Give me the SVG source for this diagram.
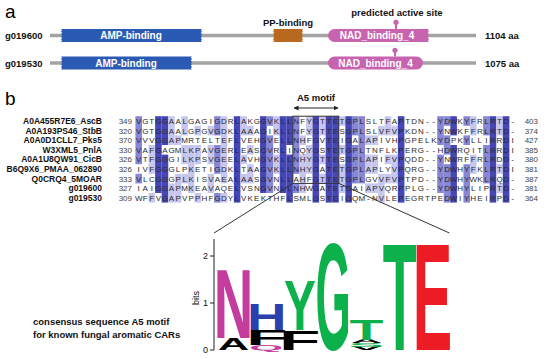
<svg xmlns="http://www.w3.org/2000/svg" width="550" height="359" viewBox="0 0 550 359">
<style>
.pl{font-family:"Liberation Sans",Arial,sans-serif;font-size:19px;fill:#000}
.lb{font-family:"Liberation Sans",Arial,sans-serif;font-size:9.5px;font-weight:bold;fill:#111}
.bx{font-family:"Liberation Sans",Arial,sans-serif;font-size:10px;font-weight:bold;fill:#fff;text-anchor:middle}
.bb{fill:none;stroke:#a3a3a3;stroke-width:3.5}
.amp{fill:#2a5ab4}
.pp{fill:#b9691e}
.nad{fill:#c864af}
.stk{stroke:#c864af;stroke-width:2}
.nm{font-family:"Liberation Sans",Arial,sans-serif;font-size:8.5px;font-weight:bold;fill:#111;text-anchor:end}
.no{font-family:"Liberation Sans",Arial,sans-serif;font-size:8px;fill:#444}
.sq{font-family:"Liberation Sans",Arial,sans-serif;font-size:8px;fill:#2a2a2a;text-anchor:middle}
.d{fill:#4646b6}
.m{fill:#8787d6}
.l{fill:#c7c7ee}
.cn{stroke:#333;stroke-width:1;fill:none}
.lg{font-family:"Liberation Sans",Arial,sans-serif;font-size:10px;font-weight:bold}
.ax{font-family:"Liberation Sans",Arial,sans-serif;font-size:9px;fill:#111}
</style>
<defs>
<marker id="ah" viewBox="0 0 10 10" refX="9" refY="5" markerWidth="5" markerHeight="5" orient="auto-start-reverse" markerUnits="userSpaceOnUse">
<path d="M0,0 L10,5 L0,10 Z" fill="#222"/>
</marker>
</defs>

<!-- panel a -->
<text class="pl" x="5" y="18">a</text>
<text class="lb" x="397" y="16" text-anchor="middle">predicted active site</text>

<g id="g019600-protein">
<text class="lb" x="5" y="39">g019600</text>
<line class="bb" x1="50" y1="35.5" x2="476" y2="35.5"/>
<text class="lb" x="485" y="39">1104 aa</text>
</g>
<g id="g019600-AMP">
<path class="amp" d="M61,29 L202,29 L200.8,30.3 L202,31.6 L200.8,32.9 L202,34.2 L200.8,35.5 L202,36.8 L200.8,38.1 L202,39.4 L200.8,40.7 L202,42 L61,42 L62.2,40.7 L61,39.4 L62.2,38.1 L61,36.8 L62.2,35.5 L61,34.2 L62.2,32.9 L61,31.6 L62.2,30.3 Z"/>
<text class="bx" x="131" y="39.2">AMP-binding</text>
</g>
<g id="g019600-PP">
<path class="pp" d="M273,29 L303,29 L301.8,30.3 L303,31.6 L301.8,32.9 L303,34.2 L301.8,35.5 L303,36.8 L301.8,38.1 L303,39.4 L301.8,40.7 L303,42 L273,42 L274.2,40.7 L273,39.4 L274.2,38.1 L273,36.8 L274.2,35.5 L273,34.2 L274.2,32.9 L273,31.6 L274.2,30.3 Z"/>
<text class="lb" x="288" y="25.5" text-anchor="middle">PP-binding</text>
</g>
<g id="g019600-NAD">
<path class="nad" d="M334.5,29 L429,29 L427.8,30.3 L429,31.6 L427.8,32.9 L429,34.2 L427.8,35.5 L429,36.8 L427.8,38.1 L429,39.4 L427.8,40.7 L429,42 L334.5,42 A6.5,6.5 0 0 1 334.5,29 Z"/>
<line class="stk" x1="396" y1="23" x2="396" y2="29"/>
<circle class="nad" cx="396" cy="22.3" r="2.6"/>
<text class="bx" x="377" y="39.2">NAD_binding_4</text>
</g>

<g id="g019530-protein">
<text class="lb" x="5" y="67">g019530</text>
<line class="bb" x1="50" y1="63" x2="476" y2="63"/>
<text class="lb" x="485" y="67">1075 aa</text>
</g>
<g id="g019530-AMP">
<path class="amp" d="M61,56.5 L192,56.5 L190.8,57.8 L192,59.1 L190.8,60.4 L192,61.7 L190.8,63 L192,64.3 L190.8,65.6 L192,66.9 L190.8,68.2 L192,69.5 L61,69.5 L62.2,68.2 L61,66.9 L62.2,65.6 L61,64.3 L62.2,63 L61,61.7 L62.2,60.4 L61,59.1 L62.2,57.8 Z"/>
<text class="bx" x="126" y="66.7">AMP-binding</text>
</g>
<g id="g019530-NAD">
<rect class="nad" x="328" y="56.5" width="95" height="13" rx="6.5"/>
<line class="stk" x1="395" y1="51" x2="395" y2="56.5"/>
<circle class="nad" cx="395" cy="50.3" r="2.6"/>
<text class="bx" x="375.5" y="66.7">NAD_binding_4</text>
</g>

<!-- panel b -->
<text class="pl" x="5" y="105">b</text>
<g id="a5-label">
<text class="lb" x="316" y="101" text-anchor="middle">A5 motif</text>
<line x1="294" y1="108" x2="338" y2="108" stroke="#222" stroke-width="1" marker-start="url(#ah)" marker-end="url(#ah)"/>
</g>

<g id="alignment-shading">
<rect class="m" x="135.42" y="116.2" width="6.6" height="48"/>
<rect class="m" x="135.42" y="173.8" width="6.6" height="9.6"/>
<rect class="l" x="148.54" y="145" width="6.6" height="28.8"/>
<rect class="l" x="148.54" y="193" width="6.6" height="9.6"/>
<rect class="d" x="155.1" y="116.2" width="6.6" height="76.8"/>
<rect class="d" x="161.66" y="116.2" width="6.6" height="28.8"/>
<rect class="d" x="161.66" y="154.6" width="6.6" height="48"/>
<rect class="l" x="168.22" y="116.2" width="6.6" height="28.8"/>
<rect class="l" x="168.22" y="183.4" width="6.6" height="19.2"/>
<rect class="l" x="174.78" y="135.4" width="6.6" height="9.6"/>
<rect class="l" x="174.78" y="173.8" width="6.6" height="28.8"/>
<rect class="l" x="181.34" y="116.2" width="6.6" height="19.2"/>
<rect class="l" x="181.34" y="145" width="6.6" height="19.2"/>
<rect class="l" x="181.34" y="173.8" width="6.6" height="9.6"/>
<rect class="l" x="187.9" y="145" width="6.6" height="48"/>
<rect class="l" x="194.46" y="125.8" width="6.6" height="9.6"/>
<rect class="l" x="194.46" y="145" width="6.6" height="19.2"/>
<rect class="l" x="194.46" y="193" width="6.6" height="9.6"/>
<rect class="l" x="207.58" y="125.8" width="6.6" height="9.6"/>
<rect class="l" x="207.58" y="145" width="6.6" height="19.2"/>
<rect class="l" x="207.58" y="173.8" width="6.6" height="19.2"/>
<rect class="m" x="214.14" y="116.2" width="6.6" height="19.2"/>
<rect class="m" x="214.14" y="145" width="6.6" height="28.8"/>
<rect class="m" x="214.14" y="193" width="6.6" height="9.6"/>
<rect class="l" x="220.7" y="116.2" width="6.6" height="67.2"/>
<rect class="l" x="220.7" y="193" width="6.6" height="9.6"/>
<rect class="d" x="233.82" y="116.2" width="6.6" height="86.4"/>
<rect class="l" x="240.38" y="116.2" width="6.6" height="19.2"/>
<rect class="l" x="240.38" y="154.6" width="6.6" height="9.6"/>
<rect class="l" x="240.38" y="173.8" width="6.6" height="9.6"/>
<rect class="l" x="246.94" y="125.8" width="6.6" height="9.6"/>
<rect class="l" x="246.94" y="145" width="6.6" height="9.6"/>
<rect class="l" x="246.94" y="164.2" width="6.6" height="19.2"/>
<rect class="d" x="260.06" y="116.2" width="6.6" height="76.8"/>
<rect class="m" x="266.62" y="116.2" width="6.6" height="9.6"/>
<rect class="m" x="266.62" y="135.4" width="6.6" height="57.6"/>
<rect class="l" x="273.18" y="116.2" width="6.6" height="19.2"/>
<rect class="l" x="273.18" y="154.6" width="6.6" height="19.2"/>
<rect class="d" x="279.74" y="116.2" width="6.6" height="76.8"/>
<rect class="d" x="286.3" y="116.2" width="6.6" height="28.8"/>
<rect class="d" x="286.3" y="154.6" width="6.6" height="48"/>
<rect class="m" x="292.86" y="116.2" width="6.6" height="57.6"/>
<rect class="m" x="292.86" y="183.4" width="6.6" height="9.6"/>
<rect class="l" x="299.42" y="135.4" width="6.6" height="9.6"/>
<rect class="l" x="299.42" y="154.6" width="6.6" height="38.4"/>
<rect class="l" x="305.98" y="116.2" width="6.6" height="19.2"/>
<rect class="l" x="305.98" y="145" width="6.6" height="28.8"/>
<rect class="d" x="312.54" y="116.2" width="6.6" height="86.4"/>
<rect class="l" x="319.1" y="116.2" width="6.6" height="19.2"/>
<rect class="l" x="319.1" y="154.6" width="6.6" height="9.6"/>
<rect class="l" x="319.1" y="173.8" width="6.6" height="9.6"/>
<rect class="d" x="325.66" y="116.2" width="6.6" height="86.4"/>
<rect class="d" x="332.22" y="116.2" width="6.6" height="86.4"/>
<rect class="l" x="338.78" y="116.2" width="6.6" height="9.6"/>
<rect class="l" x="338.78" y="145" width="6.6" height="9.6"/>
<rect class="l" x="338.78" y="164.2" width="6.6" height="28.8"/>
<rect class="d" x="345.34" y="116.2" width="6.6" height="86.4"/>
<rect class="m" x="351.9" y="116.2" width="6.6" height="19.2"/>
<rect class="m" x="351.9" y="145" width="6.6" height="38.4"/>
<rect class="m" x="358.46" y="116.2" width="6.6" height="67.2"/>
<rect class="l" x="365.02" y="135.4" width="6.6" height="9.6"/>
<rect class="l" x="365.02" y="154.6" width="6.6" height="19.2"/>
<rect class="l" x="365.02" y="183.4" width="6.6" height="9.6"/>
<rect class="l" x="371.58" y="135.4" width="6.6" height="9.6"/>
<rect class="l" x="371.58" y="154.6" width="6.6" height="19.2"/>
<rect class="l" x="371.58" y="183.4" width="6.6" height="9.6"/>
<rect class="l" x="378.14" y="125.8" width="6.6" height="9.6"/>
<rect class="l" x="378.14" y="173.8" width="6.6" height="28.8"/>
<rect class="l" x="384.7" y="116.2" width="6.6" height="19.2"/>
<rect class="l" x="384.7" y="154.6" width="6.6" height="9.6"/>
<rect class="l" x="384.7" y="173.8" width="6.6" height="9.6"/>
<rect class="l" x="391.26" y="125.8" width="6.6" height="9.6"/>
<rect class="l" x="391.26" y="154.6" width="6.6" height="28.8"/>
<rect class="d" x="397.82" y="116.2" width="6.6" height="86.4"/>
<rect class="m" x="437.18" y="116.2" width="6.6" height="28.8"/>
<rect class="m" x="437.18" y="154.6" width="6.6" height="38.4"/>
<rect class="m" x="443.74" y="116.2" width="6.6" height="9.6"/>
<rect class="m" x="443.74" y="135.4" width="6.6" height="19.2"/>
<rect class="m" x="443.74" y="164.2" width="6.6" height="38.4"/>
<rect class="d" x="450.3" y="116.2" width="6.6" height="19.2"/>
<rect class="d" x="450.3" y="145" width="6.6" height="57.6"/>
<rect class="m" x="463.42" y="116.2" width="6.6" height="9.6"/>
<rect class="m" x="463.42" y="135.4" width="6.6" height="9.6"/>
<rect class="m" x="463.42" y="164.2" width="6.6" height="38.4"/>
<rect class="l" x="469.98" y="116.2" width="6.6" height="19.2"/>
<rect class="l" x="469.98" y="154.6" width="6.6" height="19.2"/>
<rect class="m" x="483.1" y="116.2" width="6.6" height="19.2"/>
<rect class="m" x="483.1" y="145" width="6.6" height="38.4"/>
<rect class="d" x="489.66" y="116.2" width="6.6" height="86.4"/>
<rect class="l" x="496.22" y="116.2" width="6.6" height="19.2"/>
<rect class="l" x="496.22" y="164.2" width="6.6" height="9.6"/>
<rect class="l" x="496.22" y="183.4" width="6.6" height="9.6"/>
<rect class="d" x="502.78" y="116.2" width="6.6" height="86.4"/>
</g>

<g id="alignment-text">
<text class="nm" x="102" y="124">A0A455R7E6_AscB</text>
<text class="nm" x="102" y="133.6">A0A193PS46_StbB</text>
<text class="nm" x="102" y="143.2">A0A0D1CLL7_Pks5</text>
<text class="nm" x="102" y="152.8">W3XML5_PnlA</text>
<text class="nm" x="102" y="162.4">A0A1U8QW91_CicB</text>
<text class="nm" x="102" y="172">B6Q9X6_PMAA_062890</text>
<text class="nm" x="102" y="181.6">Q0CRQ4_5MOAR</text>
<text class="nm" x="102" y="191.2">g019600</text>
<text class="nm" x="102" y="200.8">g019530</text>
<g class="no" text-anchor="end">
<text x="132" y="123.9">349</text><text x="132" y="133.5">320</text><text x="132" y="143.1">370</text>
<text x="132" y="152.7">330</text><text x="132" y="162.3">326</text><text x="132" y="171.9">326</text>
<text x="132" y="181.5">333</text><text x="132" y="191.1">327</text><text x="132" y="200.7">309</text>
<text x="538" y="123.9">403</text><text x="538" y="133.5">374</text><text x="538" y="143.1">427</text>
<text x="538" y="152.7">385</text><text x="538" y="162.3">380</text><text x="538" y="171.9">381</text>
<text x="538" y="181.5">387</text><text x="538" y="191.1">381</text><text x="538" y="200.7">364</text>
</g>
<text class="sq" y="123.9" x="138.7 145.26 151.82 158.38 164.94 171.5 178.06 184.62 191.18 197.74 204.3 210.86 217.42 223.98 230.54 237.1 243.66 250.22 256.78 263.34 269.9 276.46 283.02 289.58 296.14 302.7 309.26 315.82 322.38 328.94 335.5 342.06 348.62 355.18 361.74 368.3 374.86 381.42 387.98 394.54 401.1 407.66 414.22 420.78 427.34 433.9 440.46 447.02 453.58 460.14 466.7 473.26 479.82 486.38 492.94 499.5 506.06 512.62">VGTGGAALGAGIGDRLAKGGVKLLNFYGTTETGPLSLTFAPTDN--YDWKYFRLRTD-</text>
<text class="sq" y="133.5" x="138.7 145.26 151.82 158.38 164.94 171.5 178.06 184.62 191.18 197.74 204.3 210.86 217.42 223.98 230.54 237.1 243.66 250.22 256.78 263.34 269.9 276.46 283.02 289.58 296.14 302.7 309.26 315.82 322.38 328.94 335.5 342.06 348.62 355.18 361.74 368.3 374.86 381.42 387.98 394.54 401.1 407.66 414.22 420.78 427.34 433.9 440.46 447.02 453.58 460.14 466.7 473.26 479.82 486.38 492.94 499.5 506.06 512.62">VGTGGAALGPGVGDKLAAAGIKLLNFYGTTESGPLSLVFVPKDN--YNWKFFRLRTD-</text>
<text class="sq" y="143.1" x="138.7 145.26 151.82 158.38 164.94 171.5 178.06 184.62 191.18 197.74 204.3 210.86 217.42 223.98 230.54 237.1 243.66 250.22 256.78 263.34 269.9 276.46 283.02 289.58 296.14 302.7 309.26 315.82 322.38 328.94 335.5 342.06 348.62 355.18 361.74 368.3 374.86 381.42 387.98 394.54 401.1 407.66 414.22 420.78 427.34 433.9 440.46 447.02 453.58 460.14 466.7 473.26 479.82 486.38 492.94 499.5 506.06 512.62">VVVGGAPMRTELTEFLVEHGVELLNHFGVTEIGALAPIVHPGPELKYDPKYLLIRRDI</text>
<text class="sq" y="152.7" x="138.7 145.26 151.82 158.38 164.94 171.5 178.06 184.62 191.18 197.74 204.3 210.86 217.42 223.98 230.54 237.1 243.66 250.22 256.78 263.34 269.9 276.46 283.02 289.58 296.14 302.7 309.26 315.82 322.38 328.94 335.5 342.06 348.62 355.18 361.74 368.3 374.86 381.42 387.98 394.54 401.1 407.66 414.22 420.78 427.34 433.9 440.46 447.02 453.58 460.14 466.7 473.26 479.82 486.38 492.94 499.5 506.06 512.62">VAFGAGMLKPAVGERLEASGVRLINQYGSTETGPLTNFLKPERG--HDWRQITLRRDI</text>
<text class="sq" y="162.3" x="138.7 145.26 151.82 158.38 164.94 171.5 178.06 184.62 191.18 197.74 204.3 210.86 217.42 223.98 230.54 237.1 243.66 250.22 256.78 263.34 269.9 276.46 283.02 289.58 296.14 302.7 309.26 315.82 322.38 328.94 335.5 342.06 348.62 355.18 361.74 368.3 374.86 381.42 387.98 394.54 401.1 407.66 414.22 420.78 427.34 433.9 440.46 447.02 453.58 460.14 466.7 473.26 479.82 486.38 492.94 499.5 506.06 512.62">VTFGGGILKPSVGEELAVHGVKLLNHYGTTESGPLAPIFVPQDD--YNWRFFRLRDD-</text>
<text class="sq" y="171.9" x="138.7 145.26 151.82 158.38 164.94 171.5 178.06 184.62 191.18 197.74 204.3 210.86 217.42 223.98 230.54 237.1 243.66 250.22 256.78 263.34 269.9 276.46 283.02 289.58 296.14 302.7 309.26 315.82 322.38 328.94 335.5 342.06 348.62 355.18 361.74 368.3 374.86 381.42 387.98 394.54 401.1 407.66 414.22 420.78 427.34 433.9 440.46 447.02 453.58 460.14 466.7 473.26 479.82 486.38 492.94 499.5 506.06 512.62">IVFGGGLPKETIGDKLTAAGVKLLNHYGATETGPLAPLYVPQRG--YDWHYFKLRTDI</text>
<text class="sq" y="181.5" x="138.7 145.26 151.82 158.38 164.94 171.5 178.06 184.62 191.18 197.74 204.3 210.86 217.42 223.98 230.54 237.1 243.66 250.22 256.78 263.34 269.9 276.46 283.02 289.58 296.14 302.7 309.26 315.82 322.38 328.94 335.5 342.06 348.62 355.18 361.74 368.3 374.86 381.42 387.98 394.54 401.1 407.66 414.22 420.78 427.34 433.9 440.46 447.02 453.58 460.14 466.7 473.26 479.82 486.38 492.94 499.5 506.06 512.62">VLCGGGPLKISVAEALAASGVNLLAHFGTTETGPLGVVFVPTPD--YDWHYWKLRQD-</text>
<text class="sq" y="191.1" x="138.7 145.26 151.82 158.38 164.94 171.5 178.06 184.62 191.18 197.74 204.3 210.86 217.42 223.98 230.54 237.1 243.66 250.22 256.78 263.34 269.9 276.46 283.02 289.58 296.14 302.7 309.26 315.82 322.38 328.94 335.5 342.06 348.62 355.18 361.74 368.3 374.86 381.42 387.98 394.54 401.1 407.66 414.22 420.78 427.34 433.9 440.46 447.02 453.58 460.14 466.7 473.26 479.82 486.38 492.94 499.5 506.06 512.62">IAIGGAPMKEAVAQELVSNGVNLLNHWGATETGAIAPVQRPPLG--YDWHYLIPRTD-</text>
<text class="sq" y="200.7" x="138.7 145.26 151.82 158.38 164.94 171.5 178.06 184.62 191.18 197.74 204.3 210.86 217.42 223.98 230.54 237.1 243.66 250.22 256.78 263.34 269.9 276.46 283.02 289.58 296.14 302.7 309.26 315.82 322.38 328.94 335.5 342.06 348.62 355.18 361.74 368.3 374.86 381.42 387.98 394.54 401.1 407.66 414.22 420.78 427.34 433.9 440.46 447.02 453.58 460.14 466.7 473.26 479.82 486.38 492.94 499.5 506.06 512.62">WFFVGAPVPPHFGDYLVKEKTHFLSMLGSTEIGQM-NVLEPEGRTPEDWIYHEIRPD-</text>
</g>

<g id="connectors">
<rect class="cn" x="292.86" y="116.2" width="45.92" height="67.2"/>
<line class="cn" x1="292.86" y1="183.4" x2="214" y2="233"/>
<line class="cn" x1="338.78" y1="183.4" x2="449.4" y2="233"/>
</g>

<g id="logo-axis">
<line x1="214" y1="239" x2="214" y2="350" stroke="#222" stroke-width="1"/>
<line x1="210" y1="350" x2="214" y2="350" stroke="#222" stroke-width="1"/>
<line x1="210" y1="303" x2="214" y2="303" stroke="#222" stroke-width="1"/>
<line x1="210" y1="256" x2="214" y2="256" stroke="#222" stroke-width="1"/>
<text class="ax" x="208" y="353" text-anchor="end">0</text>
<text class="ax" x="208" y="306" text-anchor="end">1</text>
<text class="ax" x="208" y="259" text-anchor="end">2</text>
<text class="ax" font-size="8" transform="translate(199,298) rotate(-90)" text-anchor="middle">bits</text>
</g>

<g id="logo">
<text class="lg" fill="#000" transform="translate(217.85,350) scale(4.365,1.641)">A</text>
<text class="lg" fill="#c43d9e" transform="translate(213.85,338.25) scale(5.467,9.909)">N</text>
<text class="lg" fill="#c43d9e" transform="translate(249.23,350) scale(4.388,0.656)">Q</text>
<text class="lg" fill="#000" transform="translate(246.13,345.3) scale(6.72,2.165)">F</text>
<text class="lg" fill="#2b3fae" transform="translate(247.05,329.8) scale(5.467,3.617)">H</text>
<text class="lg" fill="#000" transform="translate(279.33,350) scale(6.72,2.751)">F</text>
<text class="lg" fill="#0db14b" transform="translate(284.02,330.3) scale(4.779,7.095)">Y</text>
<text class="lg" fill="#0db14b" transform="translate(315.45,350) scale(4.543,15.22)">G</text>
<text class="lg" fill="#000" transform="translate(350.65,350) scale(4.723,0.46)">V</text>
<text class="lg" fill="#0db14b" transform="translate(348.84,346.7) scale(5.288,0.46)">S</text>
<text class="lg" fill="#000" transform="translate(350.65,343.4) scale(4.365,0.46)">A</text>
<text class="lg" fill="#0db14b" transform="translate(349.43,340.1) scale(5.561,3.017)">T</text>
<text class="lg" fill="#0db14b" transform="translate(382.63,350) scale(5.561,15.22)">T</text>
<text class="lg" fill="#ed1c24" transform="translate(412.72,350) scale(5.919,15.22)">E</text>
</g>

<g id="logo-caption">
<text class="lb" x="33" y="325">consensus sequence A5 motif</text>
<text class="lb" x="33" y="338">for known fungal aromatic CARs</text>
</g>
</svg>
